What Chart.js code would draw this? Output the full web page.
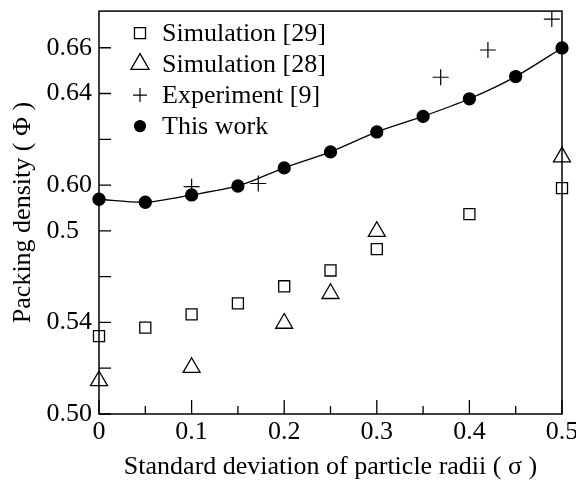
<!DOCTYPE html>
<html>
<head>
<meta charset="utf-8">
<script src="https://cdn.jsdelivr.net/npm/chart.js@4.4.0/dist/chart.umd.min.js"></script>
<style>
html, body { margin: 0; padding: 0; background: #fff; }
</style>
</head>
<body>
<canvas id="plotPacking" width="576" height="481"></canvas>
<script>
// dados
const sigmaWork = [0, 0.05, 0.1, 0.15, 0.2, 0.25, 0.3, 0.35, 0.4, 0.45, 0.5];
const densWork = [0.5938, 0.5925, 0.5957, 0.5996, 0.6075, 0.6145, 0.6232, 0.6300, 0.6377, 0.6474, 0.6599];

const sigmaSim29 = [0, 0.05, 0.1, 0.15, 0.2, 0.25, 0.3, 0.4, 0.5];
const densSim29 = [0.5340, 0.5377, 0.5435, 0.5483, 0.5558, 0.5627, 0.5720, 0.5873, 0.5987];

const sigmaSim28 = [0, 0.1, 0.2, 0.25, 0.3, 0.5];
const densSim28 = [0.5145, 0.5203, 0.5396, 0.5526, 0.5797, 0.6123];

const sigmaExp = [0.1, 0.172, 0.369, 0.42, 0.489];
const densExp = [0.5993, 0.6007, 0.6471, 0.6590, 0.6725];

const xTickValues = [0, 0.05, 0.1, 0.15, 0.2, 0.25, 0.3, 0.35, 0.4, 0.45, 0.5];
const xTickLabels = ['0', '', '0.1', '', '0.2', '', '0.3', '', '0.4', '', '0.5'];
const yTickValues = [0.50, 0.52, 0.54, 0.56, 0.58, 0.60, 0.62, 0.64, 0.66];
const yTickLabels = ['0.50', '', '0.54', '', '0.5\u2007', '0.60', '', '0.64', '0.66'];

const serif = '"Liberation Serif", "DejaVu Serif", serif';

function pairs(xs, ys) {
    return xs.map((x, i) => ({ x: x, y: ys[i] }));
}

// moldura e ticks para dentro
const framePlugin = {
    id: 'frame',
    afterDatasetsDraw(chart) {
        const ctx = chart.ctx;
        const a = chart.chartArea;
        const xs = chart.scales.x;
        const ys = chart.scales.y;
        ctx.save();
        ctx.strokeStyle = '#000';
        ctx.lineWidth = 1.5;
        ctx.strokeRect(a.left, a.top, a.right - a.left, a.bottom - a.top);
        ctx.lineWidth = 1.3;
        ctx.beginPath();
        xTickValues.forEach((v, i) => {
            const px = xs.getPixelForValue(v);
            const len = xTickLabels[i] ? 14 : 8;
            ctx.moveTo(px, a.bottom);
            ctx.lineTo(px, a.bottom - len);
        });
        yTickValues.forEach(v => {
            const py = ys.getPixelForValue(v);
            ctx.moveTo(a.left, py);
            ctx.lineTo(a.left + 12, py);
        });
        ctx.stroke();
        ctx.restore();
    }
};

// legenda dentro do grafico
const legendPlugin = {
    id: 'insideLegend',
    afterDraw(chart) {
        const ctx = chart.ctx;
        const a = chart.chartArea;
        ctx.save();
        ctx.font = '26px ' + serif;
        ctx.textBaseline = 'middle';
        chart.data.datasets.forEach((ds, i) => {
            const y = a.top + 22 + i * 31;
            const x = a.left + 41;
            ctx.strokeStyle = '#000';
            ctx.fillStyle = ds.backgroundColor;
            ctx.lineWidth = ds.borderWidth;
            Chart.helpers.drawPoint(ctx, {
                pointStyle: ds.pointStyle,
                radius: ds.legendRadius,
                borderWidth: ds.borderWidth,
                rotation: 0
            }, x, y);
            ctx.fillStyle = '#000';
            ctx.fillText(ds.label, a.left + 63, y + 1);
        });
        ctx.restore();
    }
};

const ctx = document.getElementById('plotPacking');

new Chart(ctx, {
    type: 'scatter',
    data: {
        datasets: [{
            label: 'Simulation [29]',
            data: pairs(sigmaSim29, densSim29),
            pointStyle: 'rect',
            pointRadius: 7.8,
            legendRadius: 7.8,
            borderColor: '#000',
            backgroundColor: 'rgba(0,0,0,0)',
            borderWidth: 1.3,
            clip: false
        }, {
            label: 'Simulation [28]',
            data: pairs(sigmaSim28, densSim28),
            pointStyle: 'triangle',
            pointRadius: 9.8,
            legendRadius: 10.5,
            borderColor: '#000',
            backgroundColor: 'rgba(0,0,0,0)',
            borderWidth: 1.3,
            clip: false
        }, {
            label: 'Experiment [9]',
            data: pairs(sigmaExp, densExp),
            pointStyle: 'cross',
            pointRadius: 8,
            legendRadius: 7,
            borderColor: '#000',
            backgroundColor: 'rgba(0,0,0,0)',
            borderWidth: 1.2,
            clip: false
        }, {
            label: 'This work',
            data: pairs(sigmaWork, densWork),
            showLine: true,
            tension: 0.25,
            pointStyle: 'circle',
            pointRadius: 6,
            legendRadius: 5.5,
            borderColor: '#000',
            backgroundColor: '#000',
            borderWidth: 1.3,
            clip: false
        }]
    },
    options: {
        responsive: false,
        animation: false,
        devicePixelRatio: 1,
        layout: { padding: { top: 10, right: 14, left: 0, bottom: 0 } },
        plugins: {
            legend: { display: false },
            tooltip: { enabled: false }
        },
        scales: {
            x: {
                type: 'linear',
                min: 0,
                max: 0.5,
                afterBuildTicks: s => { s.ticks = xTickValues.map(v => ({ value: v })); },
                afterFit: s => { s.height = 67; s.paddingLeft = 0; s.paddingRight = 0; },
                grid: { display: false, drawTicks: false },
                border: { display: false },
                ticks: {
                    autoSkip: false,
                    maxRotation: 0,
                    padding: 3,
                    color: '#000',
                    font: { family: serif, size: 26 },
                    callback: (v, i) => xTickLabels[i]
                },
                title: {
                    display: true,
                    text: 'Standard deviation of particle radii ( σ )',
                    color: '#000',
                    font: { family: serif, size: 26 },
                    padding: { top: 0, bottom: -2 }
                }
            },
            y: {
                type: 'linear',
                min: 0.50,
                max: 0.676,
                afterBuildTicks: s => { s.ticks = yTickValues.map(v => ({ value: v })); },
                afterFit: s => { s.width = 99; s.paddingTop = 0; s.paddingBottom = 0; },
                grid: { display: false, drawTicks: false },
                border: { display: false },
                ticks: {
                    autoSkip: false,
                    padding: 7,
                    color: '#000',
                    font: { family: serif, size: 26 },
                    callback: (v, i) => yTickLabels[i]
                },
                title: {
                    display: true,
                    text: 'Packing density ( Φ )',
                    color: '#000',
                    font: { family: serif, size: 26 },
                    padding: { top: 8, bottom: 0 }
                }
            }
        }
    },
    plugins: [framePlugin, legendPlugin]
});
</script>
</body>
</html>
